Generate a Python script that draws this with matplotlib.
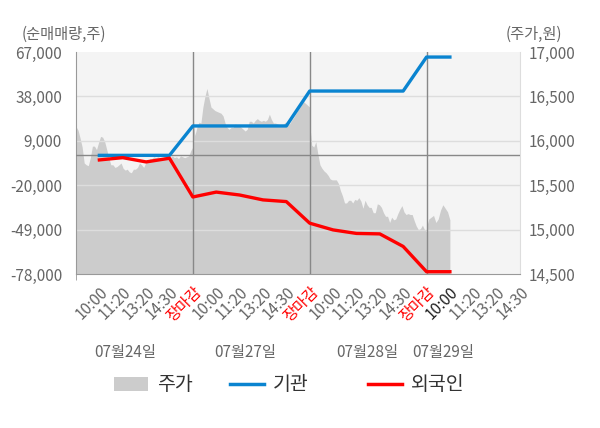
import numpy as np
import matplotlib.pyplot as plt
from matplotlib.patches import Patch
from matplotlib.lines import Line2D

plt.rcParams['font.family'] = ['Noto Sans CJK KR', 'DejaVu Sans']

# --- data ---
dates = ['07월24일', '07월27일', '07월28일', '07월29일']
times = ['10:00', '11:20', '13:20', '14:30', '장마감']

# intraday price (원), one reading every ~2px across each session
price_d1 = [16160, 16120, 16030, 15930, 15750, 15730, 15720, 15810, 15940, 15940,
            15900, 15980, 16050, 16040, 15990, 15900, 15810, 15730, 15730, 15700,
            15710, 15730, 15750, 15690, 15670, 15680, 15650, 15640, 15680, 15680,
            15700, 15750, 15730, 15700, 15750, 15770, 15800, 15800, 15820, 15810,
            15820, 15810, 15800, 15820, 15820, 15810, 15810, 15830, 15810, 15820,
            15800, 15830, 15820, 15810, 15820, 15830, 15890, 15930]
price_d2 = [16330, 16060, 16150, 16210, 16200, 16380, 16500, 16590, 16480, 16380,
            16360, 16340, 16330, 16320, 16310, 16280, 16200, 16150, 16130, 16150,
            16150, 16190, 16180, 16170, 16150, 16130, 16110, 16130, 16220, 16220,
            16200, 16230, 16250, 16230, 16220, 16230, 16220, 16240, 16300, 16240,
            16200, 16200, 16190, 16180, 16170, 16190, 16210, 16190, 16190, 16230,
            16260, 16300, 16340, 16370, 16410, 16440, 16420, 16400, 16380]
price_d3 = [16200, 15950, 15930, 15990, 15850, 15730, 15690, 15660, 15640, 15610,
            15570, 15560, 15560, 15560, 15520, 15440, 15380, 15300, 15300, 15330,
            15330, 15300, 15340, 15330, 15360, 15320, 15240, 15330, 15280, 15250,
            15250, 15190, 15190, 15290, 15280, 15250, 15190, 15150, 15150, 15080,
            15140, 15110, 15120, 15180, 15230, 15270, 15200, 15170, 15180, 15170,
            15170, 15100, 15040, 15000, 15010, 15050, 15000, 14980]
price_d4 = [15030, 15120, 15140, 15160, 15080, 15120, 15220, 15280, 15240, 15200, 15110]

# cumulative net buying (주) at each time label, 07/24 10:00 .. 07/29 10:00
inst = [-500, -500, -500, -500, 18700, 18700, 18700, 18700, 18700,
        41500, 41500, 41500, 41500, 41500, 63700, 63700]
foreign = [-3500, -2000, -4800, -2400, -27700, -24500, -26400, -29600, -30700,
           -44800, -49200, -51500, -51800, -60000, -76500, -76500]

left_ticks = np.arange(-78000, 67001, 29000)
right_ticks = np.arange(14500, 17001, 500)

GRAY = '#666666'
BLUE = '#0a84d0'
RED = '#ff0000'

fig = plt.figure(figsize=(6, 4.28), dpi=100)
ax = fig.add_axes([76/600, 1-274/428, 444/600, 222/428])
ax.set_facecolor('#f4f4f4')
ax2 = ax.twinx()

# price area (drawn on base axes so the flow lines sit on top)
for d, p in enumerate([price_d1, price_d2, price_d3]):
    x = np.linspace(5*d, 5*d+5, len(p))
    ax.fill_between(x, 14500, p, color='#cccccc', lw=0, zorder=1)
x4 = np.linspace(15, 16, len(price_d4))
ax.fill_between(x4, 14500, price_d4, color='#cccccc', lw=0, zorder=1)

ax.set_xlim(0, 19)
ax.set_ylim(14500, 17000)
for t in right_ticks[1:-1]:
    ax.axhline(t, color='#dddddd', lw=1, zorder=2)
for xb in [5, 10, 15]:
    ax.axvline(xb, color='#888888', lw=1, zorder=3)

ax.yaxis.tick_right()
ax.set_yticks(right_ticks)
ax.set_yticklabels([f'{v:,}' for v in right_ticks])
ax.tick_params(axis='y', length=0, pad=6, labelsize=11, labelcolor=GRAY)

# x ticks
xt = np.arange(1, 20)
xl = times * 3 + times[:4]
ax.set_xticks(xt)
ax.set_xticklabels(xl, rotation=45, ha='right', va='top', rotation_mode='anchor')
ax.tick_params(axis='x', length=0, pad=7, labelsize=11, labelcolor=GRAY)
for i, lab in enumerate(ax.get_xticklabels()):
    if lab.get_text() == '장마감':
        lab.set_color(RED)
    elif i == 15:
        lab.set_color('#222222')
ax.set_xticks([0, 5, 10, 15, 19], minor=True)
ax.tick_params(axis='x', which='minor', length=4, color='#999999')

ax.spines['top'].set_visible(False)
ax.spines['left'].set_color('#999999')
ax.spines['bottom'].set_color('#999999')
ax.spines['right'].set_color('#dddddd')

# flows on twin axis, ticks on the left
ax2.set_ylim(-78000, 67000)
ax2.yaxis.tick_left()
ax2.set_yticks(left_ticks)
ax2.set_yticklabels([f'{v:,}' for v in left_ticks])
ax2.tick_params(axis='y', length=0, pad=10, labelsize=11, labelcolor=GRAY)
for s in ax2.spines.values():
    s.set_visible(False)
ax2.axhline(0, color='#888888', lw=1, zorder=1)
xf = np.arange(1, 17)
ax2.plot(xf, inst, color=BLUE, lw=2.4, zorder=3)
ax2.plot(xf, foreign, color=RED, lw=2.4, zorder=4)

fig.text(22/600, 1-34/428, '(순매매량,주)', fontsize=11, color=GRAY, va='center', ha='left')
fig.text(562/600, 1-34/428, '(주가,원)', fontsize=11, color=GRAY, va='center', ha='right')

date_y = -(353-274)/222
for xpos, d in zip([2.1, 7.25, 12.45, 15.7], dates):
    ax.text(xpos, date_y, d, transform=ax.get_xaxis_transform(), fontsize=11,
            color=GRAY, ha='center', va='center')

# legend: one entry per box so each can sit where the reference has it
handles = [Patch(facecolor='#cccccc', edgecolor='none'),
           Line2D([], [], color=BLUE, lw=2.5),
           Line2D([], [], color=RED, lw=2.5)]
names = ['주가', '기관', '외국인']
for h, n, lx in zip(handles, names, [114, 230, 368]):
    fig.legend([h], [n], loc='center left', bbox_to_anchor=(lx/600, 1-385/428),
               frameon=False, fontsize=14, handlelength=1.75, handletextpad=0.45,
               borderpad=0, borderaxespad=0, labelcolor='#333333')

fig.savefig('out.png', dpi=100, facecolor='white')
